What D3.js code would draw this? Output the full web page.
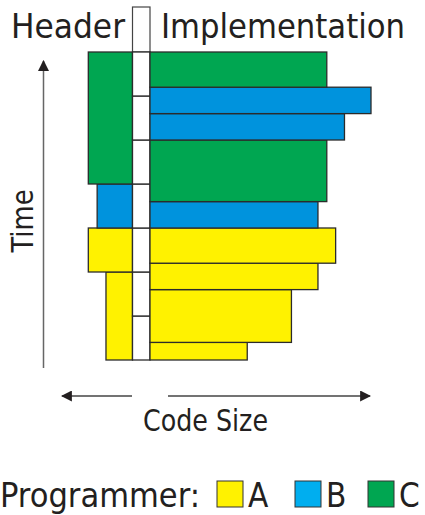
<!DOCTYPE html>
<html>
<head>
<meta charset="utf-8">
<script src="https://cdn.jsdelivr.net/npm/d3@7"></script>
<style>
  html, body { margin: 0; padding: 0; background: #fff; }
  svg { display: block; }
  text { font-family: "DejaVu Sans Condensed", "DejaVu Sans", sans-serif; fill: #231f20; }
</style>
</head>
<body>
<svg id="chart" width="425" height="515"></svg>
<script>
// ---- data ----
const programmers = ["A", "B", "C"];
const programmerColors = ["#FFF200", "#0093DD", "#00A651"];
const legendColors = ["#FFF200", "#00AEEF", "#00A651"];

// header (left side) segments: time start/end, size, owner
const headerStart = [0, 2, 3, 4];
const headerEnd   = [2, 3, 4, 7];
const headerSize  = [12, 20, 16, 20];
const headerOwner = ["A", "A", "B", "C"];

// implementation (right side) segments
const implStart = [0, 0.4, 1.6, 2.2, 3, 3.6, 5, 5.6, 6.2];
const implEnd   = [0.4, 1.6, 2.2, 3, 3.6, 5, 5.6, 6.2, 7];
const implSize  = [44, 64, 76, 84, 76, 80, 88, 100, 80];
const implOwner = ["A", "A", "A", "A", "B", "C", "B", "B", "C"];

// interface cells (middle column), one per time unit
const interfaceStart = [0, 1, 2, 3, 4, 5, 6];

// ---- drawing ----
const svg = d3.select("#chart");
const y = d3.scaleLinear().domain([0, 7]).range([360, 52]);
const size = d3.scaleLinear().domain([0, 100]).range([0, 221]);
const color = d3.scaleOrdinal().domain(programmers).range(programmerColors);
const headerRight = 132.5, implLeft = 150;
const strokeCol = "#2b2b2b";

const header = headerStart.map((s, i) => ({s, e: headerEnd[i], v: headerSize[i], o: headerOwner[i]}));
const impl = implStart.map((s, i) => ({s, e: implEnd[i], v: implSize[i], o: implOwner[i]}));

// arrow markers
const defs = svg.append("defs");
defs.append("marker").attr("id", "arr")
  .attr("viewBox", "0 0 10 10").attr("refX", 9).attr("refY", 5)
  .attr("markerWidth", 11).attr("markerHeight", 11).attr("markerUnits", "userSpaceOnUse")
  .attr("orient", "auto")
  .append("path").attr("d", "M0,0 L10,5 L0,10 Z").attr("fill", "#231f20");

// middle column outline (top part over title)
svg.append("rect").attr("x", headerRight).attr("y", 7)
  .attr("width", implLeft - headerRight).attr("height", y(7) - 7)
  .attr("fill", "#fff").attr("stroke", "#444").attr("stroke-width", 1.2);

// header bars
svg.append("g").selectAll("rect").data(header).join("rect")
  .attr("x", d => headerRight - size(d.v))
  .attr("y", d => y(d.e))
  .attr("width", d => size(d.v))
  .attr("height", d => y(d.s) - y(d.e))
  .attr("fill", d => color(d.o))
  .attr("stroke", strokeCol).attr("stroke-width", 1.3);

// interface cells
svg.append("g").selectAll("rect").data(interfaceStart).join("rect")
  .attr("x", headerRight).attr("y", d => y(d + 1))
  .attr("width", implLeft - headerRight)
  .attr("height", d => y(d) - y(d + 1))
  .attr("fill", "#fff").attr("stroke", strokeCol).attr("stroke-width", 1.3);

// implementation bars
svg.append("g").selectAll("rect").data(impl).join("rect")
  .attr("x", implLeft)
  .attr("y", d => y(d.e))
  .attr("width", d => size(d.v))
  .attr("height", d => y(d.s) - y(d.e))
  .attr("fill", d => color(d.o))
  .attr("stroke", strokeCol).attr("stroke-width", 1.3);

// titles
svg.append("text").attr("x", 11).attr("y", 38)
  .attr("font-size", 34).attr("textLength", 114).attr("lengthAdjust", "spacingAndGlyphs")
  .text("Header");
svg.append("text").attr("x", 161).attr("y", 38)
  .attr("font-size", 34).attr("textLength", 244).attr("lengthAdjust", "spacingAndGlyphs")
  .text("Implementation");

// time axis
svg.append("line").attr("x1", 43.5).attr("x2", 43.5).attr("y1", 368).attr("y2", 61)
  .attr("stroke", "#666").attr("stroke-width", 1.5).attr("marker-end", "url(#arr)");
svg.append("text").attr("transform", "translate(33,221) rotate(-90)")
  .attr("text-anchor", "middle").attr("font-size", 31)
  .attr("textLength", 63).attr("lengthAdjust", "spacingAndGlyphs")
  .text("Time");

// code size axis
svg.append("line").attr("x1", 132).attr("x2", 62).attr("y1", 396).attr("y2", 396)
  .attr("stroke", "#444").attr("stroke-width", 1.3).attr("marker-end", "url(#arr)");
svg.append("line").attr("x1", 168).attr("x2", 370).attr("y1", 396).attr("y2", 396)
  .attr("stroke", "#444").attr("stroke-width", 1.3).attr("marker-end", "url(#arr)");
svg.append("text").attr("x", 143).attr("y", 431)
  .attr("font-size", 30).attr("textLength", 125).attr("lengthAdjust", "spacingAndGlyphs")
  .text("Code Size");

// legend
svg.append("text").attr("x", 0).attr("y", 507)
  .attr("font-size", 33).attr("textLength", 200).attr("lengthAdjust", "spacingAndGlyphs")
  .text("Programmer:");
const legX = [217, 295, 368];
const lg = svg.append("g").selectAll("g").data(programmers).join("g")
  .attr("transform", (d, i) => `translate(${legX[i]},481)`);
lg.append("rect").attr("width", 26).attr("height", 26)
  .attr("fill", (d, i) => legendColors[i]).attr("stroke", "#333").attr("stroke-width", 1);
lg.append("text").attr("x", 31).attr("y", 26).attr("font-size", 33).text(d => d);
</script>
</body>
</html>
